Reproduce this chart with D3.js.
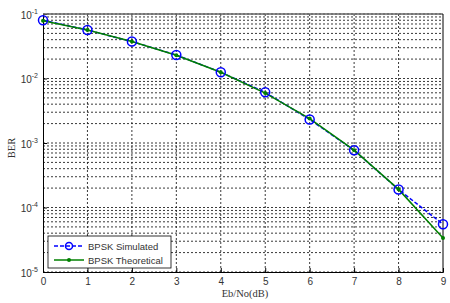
<!DOCTYPE html>
<html><head><meta charset="utf-8">
<script src="https://cdn.jsdelivr.net/npm/d3@7"></script>
<style>body{margin:0;background:#fff}svg{display:block}text{font-family:"Liberation Sans",Arial,sans-serif}</style>
</head><body><svg id="c" width="450" height="303"></svg>
<script>
const ebno = [0,1,2,3,4,5,6,7,8,9];
const berSim = [0.0800,0.0565,0.0374,0.0231,0.0125,0.0061,0.00232,0.00077,0.000190,0.000055];
const berTheo = [0.0786,0.0563,0.0375,0.0229,0.0125,0.00595,0.00239,0.000773,0.000191,0.0000336];
const xTicks = [0,1,2,3,4,5,6,7,8,9];
const yExp = [-1,-2,-3,-4,-5];
const seriesNames = ["BPSK Simulated","BPSK Theoretical"];

const svg = d3.select("#c");
const L=43,R=443,T=14,B=272;
const x = d3.scaleLinear().domain([0,9]).range([L,R]);
const y = d3.scaleLog().domain([1e-5,1e-1]).range([B,T]);

const g = svg.append("g");
const minor=[];
for(let e=-5;e<-1;e++) for(let m=1;m<10;m++) minor.push(m*Math.pow(10,e));
minor.push(1e-1);
g.selectAll(".hg").data(minor).enter().append("line")
 .attr("x1",L).attr("x2",R).attr("y1",d=>y(d)).attr("y2",d=>y(d))
 .attr("stroke","#222").attr("stroke-width",0.9).attr("stroke-dasharray","2,2");
g.selectAll(".vg").data(xTicks.slice(1,-1)).enter().append("line")
 .attr("y1",T).attr("y2",B).attr("x1",d=>x(d)).attr("x2",d=>x(d))
 .attr("stroke","#222").attr("stroke-width",0.9).attr("stroke-dasharray","2,2");

const xa = svg.append("g").attr("transform",`translate(0,${B})`)
 .call(d3.axisBottom(x).tickValues(xTicks).tickSize(-4).tickPadding(6).tickFormat(d3.format("d")));
xa.select(".domain").attr("stroke","#000");
xa.selectAll("text").attr("font-size",10).attr("fill","#333");
const ya = svg.append("g").attr("transform",`translate(${L},0)`)
 .call(d3.axisLeft(y).tickValues(yExp.map(e=>Math.pow(10,e))).tickSize(-4).tickPadding(4).tickFormat(""));
ya.select(".domain").attr("stroke","#000");
ya.selectAll(".tick").each(function(d){
  const t=d3.select(this).append("text").attr("x",-5).attr("y",4).attr("text-anchor","end").attr("fill","#333").attr("font-size",10);
  t.append("tspan").text("10");
  t.append("tspan").attr("dy",-5).attr("font-size",7).text(Math.round(Math.log10(d)));
});
svg.append("line").attr("x1",L).attr("x2",R).attr("y1",T).attr("y2",T).attr("stroke","#666").attr("stroke-width",1.5);
svg.append("line").attr("x1",R).attr("x2",R).attr("y1",T).attr("y2",B).attr("stroke","#000");

const line = (arr)=>d3.line().x((d,i)=>x(ebno[i])).y(d=>y(d))(arr);
svg.append("path").attr("d",line(berSim)).attr("fill","none").attr("stroke","#0000ff").attr("stroke-width",1.5).attr("stroke-dasharray","4,2");
svg.append("path").attr("d",line(berTheo)).attr("fill","none").attr("stroke","#008000").attr("stroke-width",1.5);
svg.selectAll(".ms").data(berSim).enter().append("circle")
 .attr("cx",(d,i)=>x(ebno[i])).attr("cy",d=>y(d)).attr("r",4.5).attr("fill","none").attr("stroke","#0000ff").attr("stroke-width",1.5);
svg.selectAll(".mt").data(berTheo).enter().append("circle")
 .attr("cx",(d,i)=>x(ebno[i])).attr("cy",d=>y(d)).attr("r",2).attr("fill","#008000");

const lg = svg.append("g");
lg.append("rect").attr("x",48).attr("y",236).attr("width",123).attr("height",32).attr("fill","#fff").attr("stroke","#000").attr("stroke-width",0.8);
const ly=[246,260];
lg.append("line").attr("x1",54).attr("x2",84).attr("y1",ly[0]).attr("y2",ly[0]).attr("stroke","#0000ff").attr("stroke-width",1.5).attr("stroke-dasharray","4,2");
lg.append("circle").attr("cx",69).attr("cy",ly[0]).attr("r",3.5).attr("fill","none").attr("stroke","#0000ff").attr("stroke-width",1.5);
lg.append("line").attr("x1",54).attr("x2",84).attr("y1",ly[1]).attr("y2",ly[1]).attr("stroke","#008000").attr("stroke-width",1.5);
lg.append("circle").attr("cx",69).attr("cy",ly[1]).attr("r",2).attr("fill","#008000");
seriesNames.forEach((n,i)=>lg.append("text").attr("x",88).attr("y",ly[i]+3.5).attr("font-size",9.5).attr("fill","#333").text(n));

svg.append("text").attr("x",245).attr("y",297).attr("text-anchor","middle").attr("font-size",10.5).attr("fill","#333").style("font-family","'Liberation Serif',serif").text("Eb/No(dB)");
svg.append("text").attr("transform","translate(15,148) rotate(-90)").attr("text-anchor","middle").attr("font-size",10.5).attr("fill","#333").style("font-family","'Liberation Serif',serif").text("BER");
</script></body></html>
